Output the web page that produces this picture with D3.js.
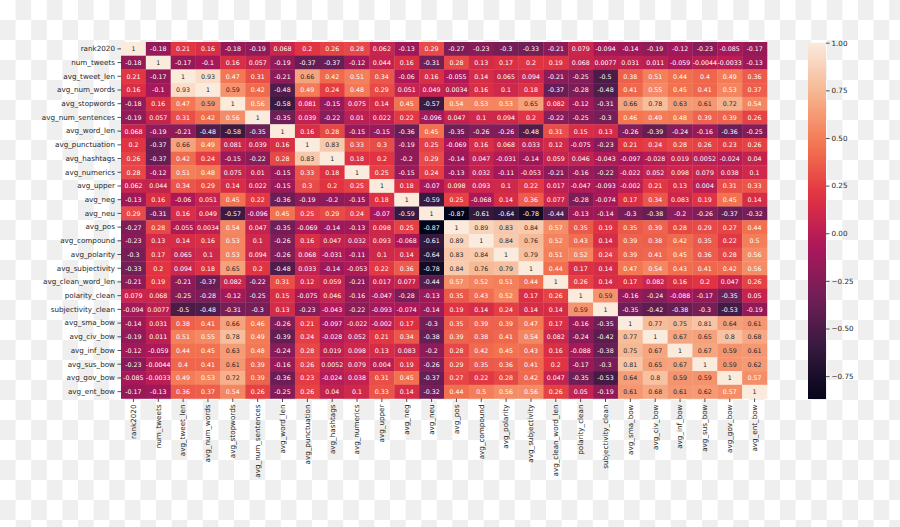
<!DOCTYPE html>
<html><head><meta charset="utf-8">
<script src="https://cdn.jsdelivr.net/npm/d3@7"></script>
<style>html,body{margin:0;padding:0;background:#fff;} svg{display:block;}</style>
</head><body>
<svg id="chart" width="900" height="527"></svg>
<script>
const labels = ["rank2020","num_tweets","avg_tweet_len","avg_num_words","avg_stopwords","avg_num_sentences","avg_word_len","avg_punctuation","avg_hashtags","avg_numerics","avg_upper","avg_neg","avg_neu","avg_pos","avg_compound","avg_polarity","avg_subjectivity","avg_clean_word_len","polarity_clean","subjectivity_clean","avg_sma_bow","avg_civ_bow","avg_inf_bow","avg_sus_bow","avg_gov_bow","avg_ent_bow"];

const r_rank2020 = [1,-0.18,0.21,0.16,-0.18,-0.19,0.068,0.2,0.26,0.28,0.062,-0.13,0.29,-0.27,-0.23,-0.3,-0.33,-0.21,0.079,-0.094,-0.14,-0.19,-0.12,-0.23,-0.085,-0.17];
const r_num_tweets = [-0.18,1,-0.17,-0.1,0.16,0.057,-0.19,-0.37,-0.37,-0.12,0.044,0.16,-0.31,0.28,0.13,0.17,0.2,0.19,0.068,0.0077,0.031,0.011,-0.059,-0.0044,-0.0033,-0.13];
const r_avg_tweet_len = [0.21,-0.17,1,0.93,0.47,0.31,-0.21,0.66,0.42,0.51,0.34,-0.06,0.16,-0.055,0.14,0.065,0.094,-0.21,-0.25,-0.5,0.38,0.51,0.44,0.4,0.49,0.36];
const r_avg_num_words = [0.16,-0.1,0.93,1,0.59,0.42,-0.48,0.49,0.24,0.48,0.29,0.051,0.049,0.0034,0.16,0.1,0.18,-0.37,-0.28,-0.48,0.41,0.55,0.45,0.41,0.53,0.37];
const r_avg_stopwords = [-0.18,0.16,0.47,0.59,1,0.56,-0.58,0.081,-0.15,0.075,0.14,0.45,-0.57,0.54,0.53,0.53,0.65,0.082,-0.12,-0.31,0.66,0.78,0.63,0.61,0.72,0.54];
const r_avg_num_sentences = [-0.19,0.057,0.31,0.42,0.56,1,-0.35,0.039,-0.22,0.01,0.022,0.22,-0.096,0.047,0.1,0.094,0.2,-0.22,-0.25,-0.3,0.46,0.49,0.48,0.39,0.39,0.26];
const r_avg_word_len = [0.068,-0.19,-0.21,-0.48,-0.58,-0.35,1,0.16,0.28,-0.15,-0.15,-0.36,0.45,-0.35,-0.26,-0.26,-0.48,0.31,0.15,0.13,-0.26,-0.39,-0.24,-0.16,-0.36,-0.25];
const r_avg_punctuation = [0.2,-0.37,0.66,0.49,0.081,0.039,0.16,1,0.83,0.33,0.3,-0.19,0.25,-0.069,0.16,0.068,0.033,0.12,-0.075,-0.23,0.21,0.24,0.28,0.26,0.23,0.26];
const r_avg_hashtags = [0.26,-0.37,0.42,0.24,-0.15,-0.22,0.28,0.83,1,0.18,0.2,-0.2,0.29,-0.14,0.047,-0.031,-0.14,0.059,0.046,-0.043,-0.097,-0.028,0.019,0.0052,-0.024,0.04];
const r_avg_numerics = [0.28,-0.12,0.51,0.48,0.075,0.01,-0.15,0.33,0.18,1,0.25,-0.15,0.24,-0.13,0.032,-0.11,-0.053,-0.21,-0.16,-0.22,-0.022,0.052,0.098,0.079,0.038,0.1];
const r_avg_upper = [0.062,0.044,0.34,0.29,0.14,0.022,-0.15,0.3,0.2,0.25,1,0.18,-0.07,0.098,0.093,0.1,0.22,0.017,-0.047,-0.093,-0.002,0.21,0.13,0.004,0.31,0.33];
const r_avg_neg = [-0.13,0.16,-0.06,0.051,0.45,0.22,-0.36,-0.19,-0.2,-0.15,0.18,1,-0.59,0.25,-0.068,0.14,0.36,0.077,-0.28,-0.074,0.17,0.34,0.083,0.19,0.45,0.14];
const r_avg_neu = [0.29,-0.31,0.16,0.049,-0.57,-0.096,0.45,0.25,0.29,0.24,-0.07,-0.59,1,-0.87,-0.61,-0.64,-0.78,-0.44,-0.13,-0.14,-0.3,-0.38,-0.2,-0.26,-0.37,-0.32];
const r_avg_pos = [-0.27,0.28,-0.055,0.0034,0.54,0.047,-0.35,-0.069,-0.14,-0.13,0.098,0.25,-0.87,1,0.89,0.83,0.84,0.57,0.35,0.19,0.35,0.39,0.28,0.29,0.27,0.44];
const r_avg_compound = [-0.23,0.13,0.14,0.16,0.53,0.1,-0.26,0.16,0.047,0.032,0.093,-0.068,-0.61,0.89,1,0.84,0.76,0.52,0.43,0.14,0.39,0.38,0.42,0.35,0.22,0.5];
const r_avg_polarity = [-0.3,0.17,0.065,0.1,0.53,0.094,-0.26,0.068,-0.031,-0.11,0.1,0.14,-0.64,0.83,0.84,1,0.79,0.51,0.52,0.24,0.39,0.41,0.45,0.36,0.28,0.56];
const r_avg_subjectivity = [-0.33,0.2,0.094,0.18,0.65,0.2,-0.48,0.033,-0.14,-0.053,0.22,0.36,-0.78,0.84,0.76,0.79,1,0.44,0.17,0.14,0.47,0.54,0.43,0.41,0.42,0.56];
const r_avg_clean_word_len = [-0.21,0.19,-0.21,-0.37,0.082,-0.22,0.31,0.12,0.059,-0.21,0.017,0.077,-0.44,0.57,0.52,0.51,0.44,1,0.26,0.14,0.17,0.082,0.16,0.2,0.047,0.26];
const r_polarity_clean = [0.079,0.068,-0.25,-0.28,-0.12,-0.25,0.15,-0.075,0.046,-0.16,-0.047,-0.28,-0.13,0.35,0.43,0.52,0.17,0.26,1,0.59,-0.16,-0.24,-0.088,-0.17,-0.35,0.05];
const r_subjectivity_clean = [-0.094,0.0077,-0.5,-0.48,-0.31,-0.3,0.13,-0.23,-0.043,-0.22,-0.093,-0.074,-0.14,0.19,0.14,0.24,0.14,0.14,0.59,1,-0.35,-0.42,-0.38,-0.3,-0.53,-0.19];
const r_avg_sma_bow = [-0.14,0.031,0.38,0.41,0.66,0.46,-0.26,0.21,-0.097,-0.022,-0.002,0.17,-0.3,0.35,0.39,0.39,0.47,0.17,-0.16,-0.35,1,0.77,0.75,0.81,0.64,0.61];
const r_avg_civ_bow = [-0.19,0.011,0.51,0.55,0.78,0.49,-0.39,0.24,-0.028,0.052,0.21,0.34,-0.38,0.39,0.38,0.41,0.54,0.082,-0.24,-0.42,0.77,1,0.67,0.65,0.8,0.68];
const r_avg_inf_bow = [-0.12,-0.059,0.44,0.45,0.63,0.48,-0.24,0.28,0.019,0.098,0.13,0.083,-0.2,0.28,0.42,0.45,0.43,0.16,-0.088,-0.38,0.75,0.67,1,0.67,0.59,0.61];
const r_avg_sus_bow = [-0.23,-0.0044,0.4,0.41,0.61,0.39,-0.16,0.26,0.0052,0.079,0.004,0.19,-0.26,0.29,0.35,0.36,0.41,0.2,-0.17,-0.3,0.81,0.65,0.67,1,0.59,0.62];
const r_avg_gov_bow = [-0.085,-0.0033,0.49,0.53,0.72,0.39,-0.36,0.23,-0.024,0.038,0.31,0.45,-0.37,0.27,0.22,0.28,0.42,0.047,-0.35,-0.53,0.64,0.8,0.59,0.59,1,0.57];
const r_avg_ent_bow = [-0.17,-0.13,0.36,0.37,0.54,0.26,-0.25,0.26,0.04,0.1,0.33,0.14,-0.32,0.44,0.5,0.56,0.56,0.26,0.05,-0.19,0.61,0.68,0.61,0.62,0.57,1];

const colorbarTicks = [-0.75,-0.5,-0.25,0,0.25,0.5,0.75,1];

const matrix = [r_rank2020,r_num_tweets,r_avg_tweet_len,r_avg_num_words,r_avg_stopwords,r_avg_num_sentences,r_avg_word_len,r_avg_punctuation,r_avg_hashtags,r_avg_numerics,r_avg_upper,r_avg_neg,r_avg_neu,r_avg_pos,r_avg_compound,r_avg_polarity,r_avg_subjectivity,r_avg_clean_word_len,r_polarity_clean,r_subjectivity_clean,r_avg_sma_bow,r_avg_civ_bow,r_avg_inf_bow,r_avg_sus_bow,r_avg_gov_bow,r_avg_ent_bow];

const cells = [];
matrix.forEach((row,i)=>row.forEach((v,j)=>cells.push({r:labels[i],c:labels[j],v})));
const [vmin,vmax] = d3.extent(cells,d=>d.v);

// rocket colormap stops
const rocketStops = ["#03051a","#35193e","#701f57","#ad1759","#e13342","#f37651","#f6b48f","#faebdd"];
const rocket = d3.scaleLinear().domain(rocketStops.map((_,i)=>i/(rocketStops.length-1))).range(rocketStops).interpolate(d3.interpolateRgb).clamp(true);
const norm = d3.scaleLinear().domain([vmin,vmax]).range([0,1]);
const colorOf = v => rocket(norm(v));

function lum(c){
  const rgb = d3.rgb(c);
  const f = x => { x/=255; return x<=0.03928 ? x/12.92 : Math.pow((x+0.055)/1.055,2.4); };
  return 0.2126*f(rgb.r)+0.7152*f(rgb.g)+0.0722*f(rgb.b);
}

const svg = d3.select('#chart');
const FONT = "'DejaVu Sans', sans-serif";

// checkerboard background
const cw = 15.6, ch = 20;
const defs = svg.append('defs');
const pat = defs.append('pattern').attr('id','checker').attr('patternUnits','userSpaceOnUse')
  .attr('width',2*cw).attr('height',2*ch);
pat.append('rect').attr('width',2*cw).attr('height',2*ch).attr('fill','#ffffff');
pat.append('rect').attr('x',cw).attr('y',0).attr('width',cw).attr('height',ch).attr('fill','#efefef');
pat.append('rect').attr('x',0).attr('y',ch).attr('width',cw).attr('height',ch).attr('fill','#efefef');
svg.append('rect').attr('width',900).attr('height',527).attr('fill','url(#checker)');

const x = d3.scaleBand().domain(labels).range([121,767]);
const y = d3.scaleBand().domain(labels).range([42,398.5]);

const g = svg.append('g');
g.selectAll('rect.cell').data(cells).join('rect').attr('class','cell')
  .attr('x',d=>x(d.c)).attr('y',d=>y(d.r))
  .attr('width',x.bandwidth()+0.3).attr('height',y.bandwidth()+0.3)
  .attr('fill',d=>colorOf(d.v));

const fmt = v => { if (v===1) return "1"; return d3.format(".2~g")(v).replace('\u2212','-'); };
g.selectAll('text.ann').data(cells).join('text').attr('class','ann')
  .attr('x',d=>x(d.c)+x.bandwidth()/2).attr('y',d=>y(d.r)+y.bandwidth()/2)
  .attr('text-anchor','middle').attr('dominant-baseline','central')
  .attr('font-family',FONT).attr('font-size','6.3px')
  .attr('fill',d=> lum(colorOf(d.v))>0.408 ? '#262626' : '#ffffff')
  .text(d=>fmt(d.v));

// axes
const yAxis = svg.append('g').attr('transform','translate(121,0)')
  .call(d3.axisLeft(y).tickSize(3.5).tickPadding(2.5));
yAxis.select('.domain').remove();
yAxis.selectAll('text').attr('font-family',FONT).attr('font-size','7.2px').attr('fill','#262626');
yAxis.selectAll('line').attr('stroke','#262626').attr('stroke-width',0.8);

const xAxis = svg.append('g').attr('transform','translate(0,398.5)')
  .call(d3.axisBottom(x).tickSize(3.5).tickPadding(2.5));
xAxis.select('.domain').remove();
xAxis.selectAll('line').attr('stroke','#262626').attr('stroke-width',0.8);
xAxis.selectAll('text').attr('font-family',FONT).attr('font-size','7.2px').attr('fill','#262626')
  .attr('transform','rotate(-90)').attr('text-anchor','end')
  .attr('x',-6).attr('y',0).attr('dy','0.32em');

// colorbar
const cbX = 808, cbW = 18, cbTop = 42.7, cbBot = 399;
const cbScale = d3.scaleLinear().domain([vmin,vmax]).range([cbBot,cbTop]);
const grad = defs.append('linearGradient').attr('id','cbgrad').attr('x1',0).attr('y1',1).attr('x2',0).attr('y2',0);
d3.range(0,1.0001,0.02).forEach(t=>grad.append('stop').attr('offset',t).attr('stop-color',rocket(t)));
svg.append('rect').attr('x',cbX).attr('y',cbTop).attr('width',cbW).attr('height',cbBot-cbTop).attr('fill','url(#cbgrad)');
const cbAxis = svg.append('g').attr('transform',`translate(${cbX+cbW},0)`)
  .call(d3.axisRight(cbScale).tickValues(colorbarTicks).tickFormat(d3.format('.2f')).tickSize(3.5).tickPadding(2));
cbAxis.select('.domain').remove();
cbAxis.selectAll('line').attr('stroke','#262626').attr('stroke-width',0.8);
cbAxis.selectAll('text').attr('font-family',FONT).attr('font-size','7.2px').attr('fill','#262626');
</script>
</body></html>
